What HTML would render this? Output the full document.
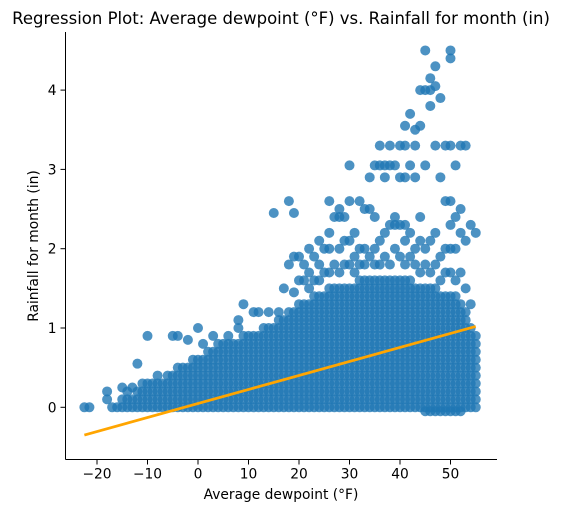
<!DOCTYPE html>
<html><head><meta charset="utf-8"><style>
body{margin:0;background:#fff;}
svg text{font-family:"DejaVu Sans","Liberation Sans",sans-serif;fill:#000;}
</style></head><body>
<svg id="chart" width="561" height="512" viewBox="0 0 561 512" xmlns="http://www.w3.org/2000/svg">
<text x="281" y="24" font-size="16.5" text-anchor="middle">Regression Plot: Average dewpoint (°F) vs. Rainfall for month (in)</text>
<g id="points"></g>
<g id="line"></g>
<g id="axes"></g>
<text x="281" y="499" font-size="13.8" text-anchor="middle">Average dewpoint (°F)</text>
<text transform="translate(38,246) rotate(-90)" font-size="13.8" text-anchor="middle">Rainfall for month (in)</text>
</svg>
<script>
// column data: dewpoint x : rainfall values in tenths of an inch
const dewpoints = [-22.5,-21.5,-18,-17,-16,-15,-14,-13,-12,-11,-10,-9,-8,-7,-6,-5,-4,-3,-2,-1,0,1,2,3,4,5,6,7,8,9,10,11,12,13,14,15,16,17,18,19,20,21,22,23,24,25,26,27,28,29,30,31,32,33,34,35,36,37,38,39,40,41,42,43,44,45,46,47,48,49,50,51,52,53,54,55];
const rainTenths = [
"0","0","1 2","0","0","0 1 2.5","0 1 2","0 1 2.5","0 1 2 5.5","0 1 2 3",
"0 1 2 3 9","0 1 2 3","0 1 2 3 4","0 1 2 3","0 1 2 3 4","0 1 2 3 4 9","0 1 2 3 4 5 9","0 1 2 3 4 5","0 1 2 3 4 5 8.5","0 1 2 3 4 5 6",
"0 1 2 3 4 5 6 10","0 1 2 3 4 5 6 8","0 1 2 3 4 5 6 7","0 1 2 3 4 5 6 7 9","0 1 2 3 4 5 6 7 8","0 1 2 3 4 5 6 7 8","0 1 2 3 4 5 6 7 8 9","0 1 2 3 4 5 6 7 8","0 1 2 3 4 5 6 7 8 10 11","0 1 2 3 4 5 6 7 8 9 13",
"0 1 2 3 4 5 6 7 8 9","0 1 2 3 4 5 6 7 8 9 12","0 1 2 3 4 5 6 7 8 9 12","0 1 2 3 4 5 6 7 8 9 10","0 1 2 3 4 5 6 7 8 9 10 12","0 1 2 3 4 5 6 7 8 9 10 24.5","0 1 2 3 4 5 6 7 8 9 10 11 12","0 1 2 3 4 5 6 7 8 9 10 11 15","0 1 2 3 4 5 6 7 8 9 10 11 12 18 26","0 1 2 3 4 5 6 7 8 9 10 11 12 14.5 19 24.5",
"0 1 2 3 4 5 6 7 8 9 10 11 12 13 16 19","0 1 2 3 4 5 6 7 8 9 10 11 12 13 16 18","0 1 2 3 4 5 6 7 8 9 10 11 12 13 15 17 20","0 1 2 3 4 5 6 7 8 9 10 11 12 13 14 16 19","0 1 2 3 4 5 6 7 8 9 10 11 12 13 14 16 18 21","0 1 2 3 4 5 6 7 8 9 10 11 12 13 14 17 20","0 1 2 3 4 5 6 7 8 9 10 11 12 13 14 15 17 20 22 26","0 1 2 3 4 5 6 7 8 9 10 11 12 13 14 15 18 24","0 1 2 3 4 5 6 7 8 9 10 11 12 13 14 15 17 20 24 25","0 1 2 3 4 5 6 7 8 9 10 11 12 13 14 15 18 21 24",
"0 1 2 3 4 5 6 7 8 9 10 11 12 13 14 15 18 21 26 30.5","0 1 2 3 4 5 6 7 8 9 10 11 12 13 14 15 17 19 22","0 1 2 3 4 5 6 7 8 9 10 11 12 13 14 15 16 18 20 26","0 1 2 3 4 5 6 7 8 9 10 11 12 13 14 15 16 18 20 25","0 1 2 3 4 5 6 7 8 9 10 11 12 13 14 15 16 19 25 29","0 1 2 3 4 5 6 7 8 9 10 11 12 13 14 15 16 18 20 24 30.5","0 1 2 3 4 5 6 7 8 9 10 11 12 13 14 15 16 18 21 30.5 33","0 1 2 3 4 5 6 7 8 9 10 11 12 13 14 15 16 19 22 29 30.5","0 1 2 3 4 5 6 7 8 9 10 11 12 13 14 15 16 18 23 30.5 33","0 1 2 3 4 5 6 7 8 9 10 11 12 13 14 15 16 20 23 24 30.5",
"0 1 2 3 4 5 6 7 8 9 10 11 12 13 14 15 16 19 23 29 33","0 1 2 3 4 5 6 7 8 9 10 11 12 13 14 15 16 18 21 23 29 33 35.5","0 1 2 3 4 5 6 7 8 9 10 11 12 13 14 15 16 19 22 30.5 37","0 1 2 3 4 5 6 7 8 9 10 11 12 13 14 15 18 20 29 33 35","0 1 2 3 4 5 6 7 8 9 10 11 12 13 14 15 17 21 24 35.5 40","-0.5 0 1 2 3 4 5 6 7 8 9 10 11 12 13 14 15 18 20 30.5 40 45","-0.5 0 1 2 3 4 5 6 7 8 9 10 11 12 13 14 15 17 21 38 40 41.5","-0.5 0 1 2 3 4 5 6 7 8 9 10 11 12 13 14 15 18 22 33 40.5 43","-0.5 0 1 2 3 4 5 6 7 8 9 10 11 12 13 14 16 19 29 39","-0.5 0 1 2 3 4 5 6 7 8 9 10 11 12 13 14 17 20 26 33",
"-0.5 0 1 2 3 4 5 6 7 8 9 10 11 12 13 14 17 20 23 26 33 44 45","-0.5 0 1 2 3 4 5 6 7 8 9 10 11 12 13 14 16 20 24 30.5","-0.5 0 1 2 3 4 5 6 7 8 9 10 11 12 13 17 22 25 33","0 1 2 3 4 5 6 7 8 9 10 11 12 15 21 33","0 1 2 3 4 5 6 7 8 9 10 13 23","0 1 2 3 4 5 6 7 8 9 22"
];
const xTicks = [-20,-10,0,10,20,30,40,50];
const yTicks = [0,1,2,3,4];
const fitX = [-22.5, 55];
const fitY = [-0.35, 1.02];

const NS='http://www.w3.org/2000/svg';
const L=65.5,R=497,T=32,B=459.5;
const sx=v=>198+v*5.05;
const sy=v=>407.3-v*79.3;
function mk(tag,attrs,parent){const e=document.createElementNS(NS,tag);for(const k in attrs)e.setAttribute(k,attrs[k]);parent.appendChild(e);return e;}
const pg=document.getElementById('points');
dewpoints.forEach((x,i)=>{
  rainTenths[i].split(' ').forEach(s=>{
    const c=mk('circle',{cx:sx(x),cy:sy(parseFloat(s)/10),r:5,fill:'#1f77b4','fill-opacity':0.8},pg);
    
    
  });
});
const lg=document.getElementById('line');
const ln=mk('line',{x1:sx(fitX[0]),y1:sy(fitY[0]),x2:sx(fitX[1]),y2:sy(fitY[1]),stroke:'#ffa500','stroke-width':2.8},lg);


const ax=document.getElementById('axes');
const ls=mk('line',{x1:L,y1:T,x2:L,y2:B,stroke:'#000','stroke-width':1},ax);


const bs=mk('line',{x1:L,y1:B,x2:R,y2:B,stroke:'#000','stroke-width':1},ax);


xTicks.forEach(v=>{
  mk('line',{x1:sx(v),y1:B,x2:sx(v),y2:B+5,stroke:'#000'},ax);
  const t=mk('text',{x:sx(v),y:B+19,'font-size':13.8,'text-anchor':'middle'},ax);
  t.textContent=String(v).replace('-','\u2212');
  
  
});
yTicks.forEach(v=>{
  mk('line',{x1:L-5,y1:sy(v),x2:L,y2:sy(v),stroke:'#000'},ax);
  const t=mk('text',{x:L-9,y:sy(v)+5,'font-size':13.8,'text-anchor':'end'},ax);
  t.textContent=String(v);
  
  
});
</script>
</body></html>
